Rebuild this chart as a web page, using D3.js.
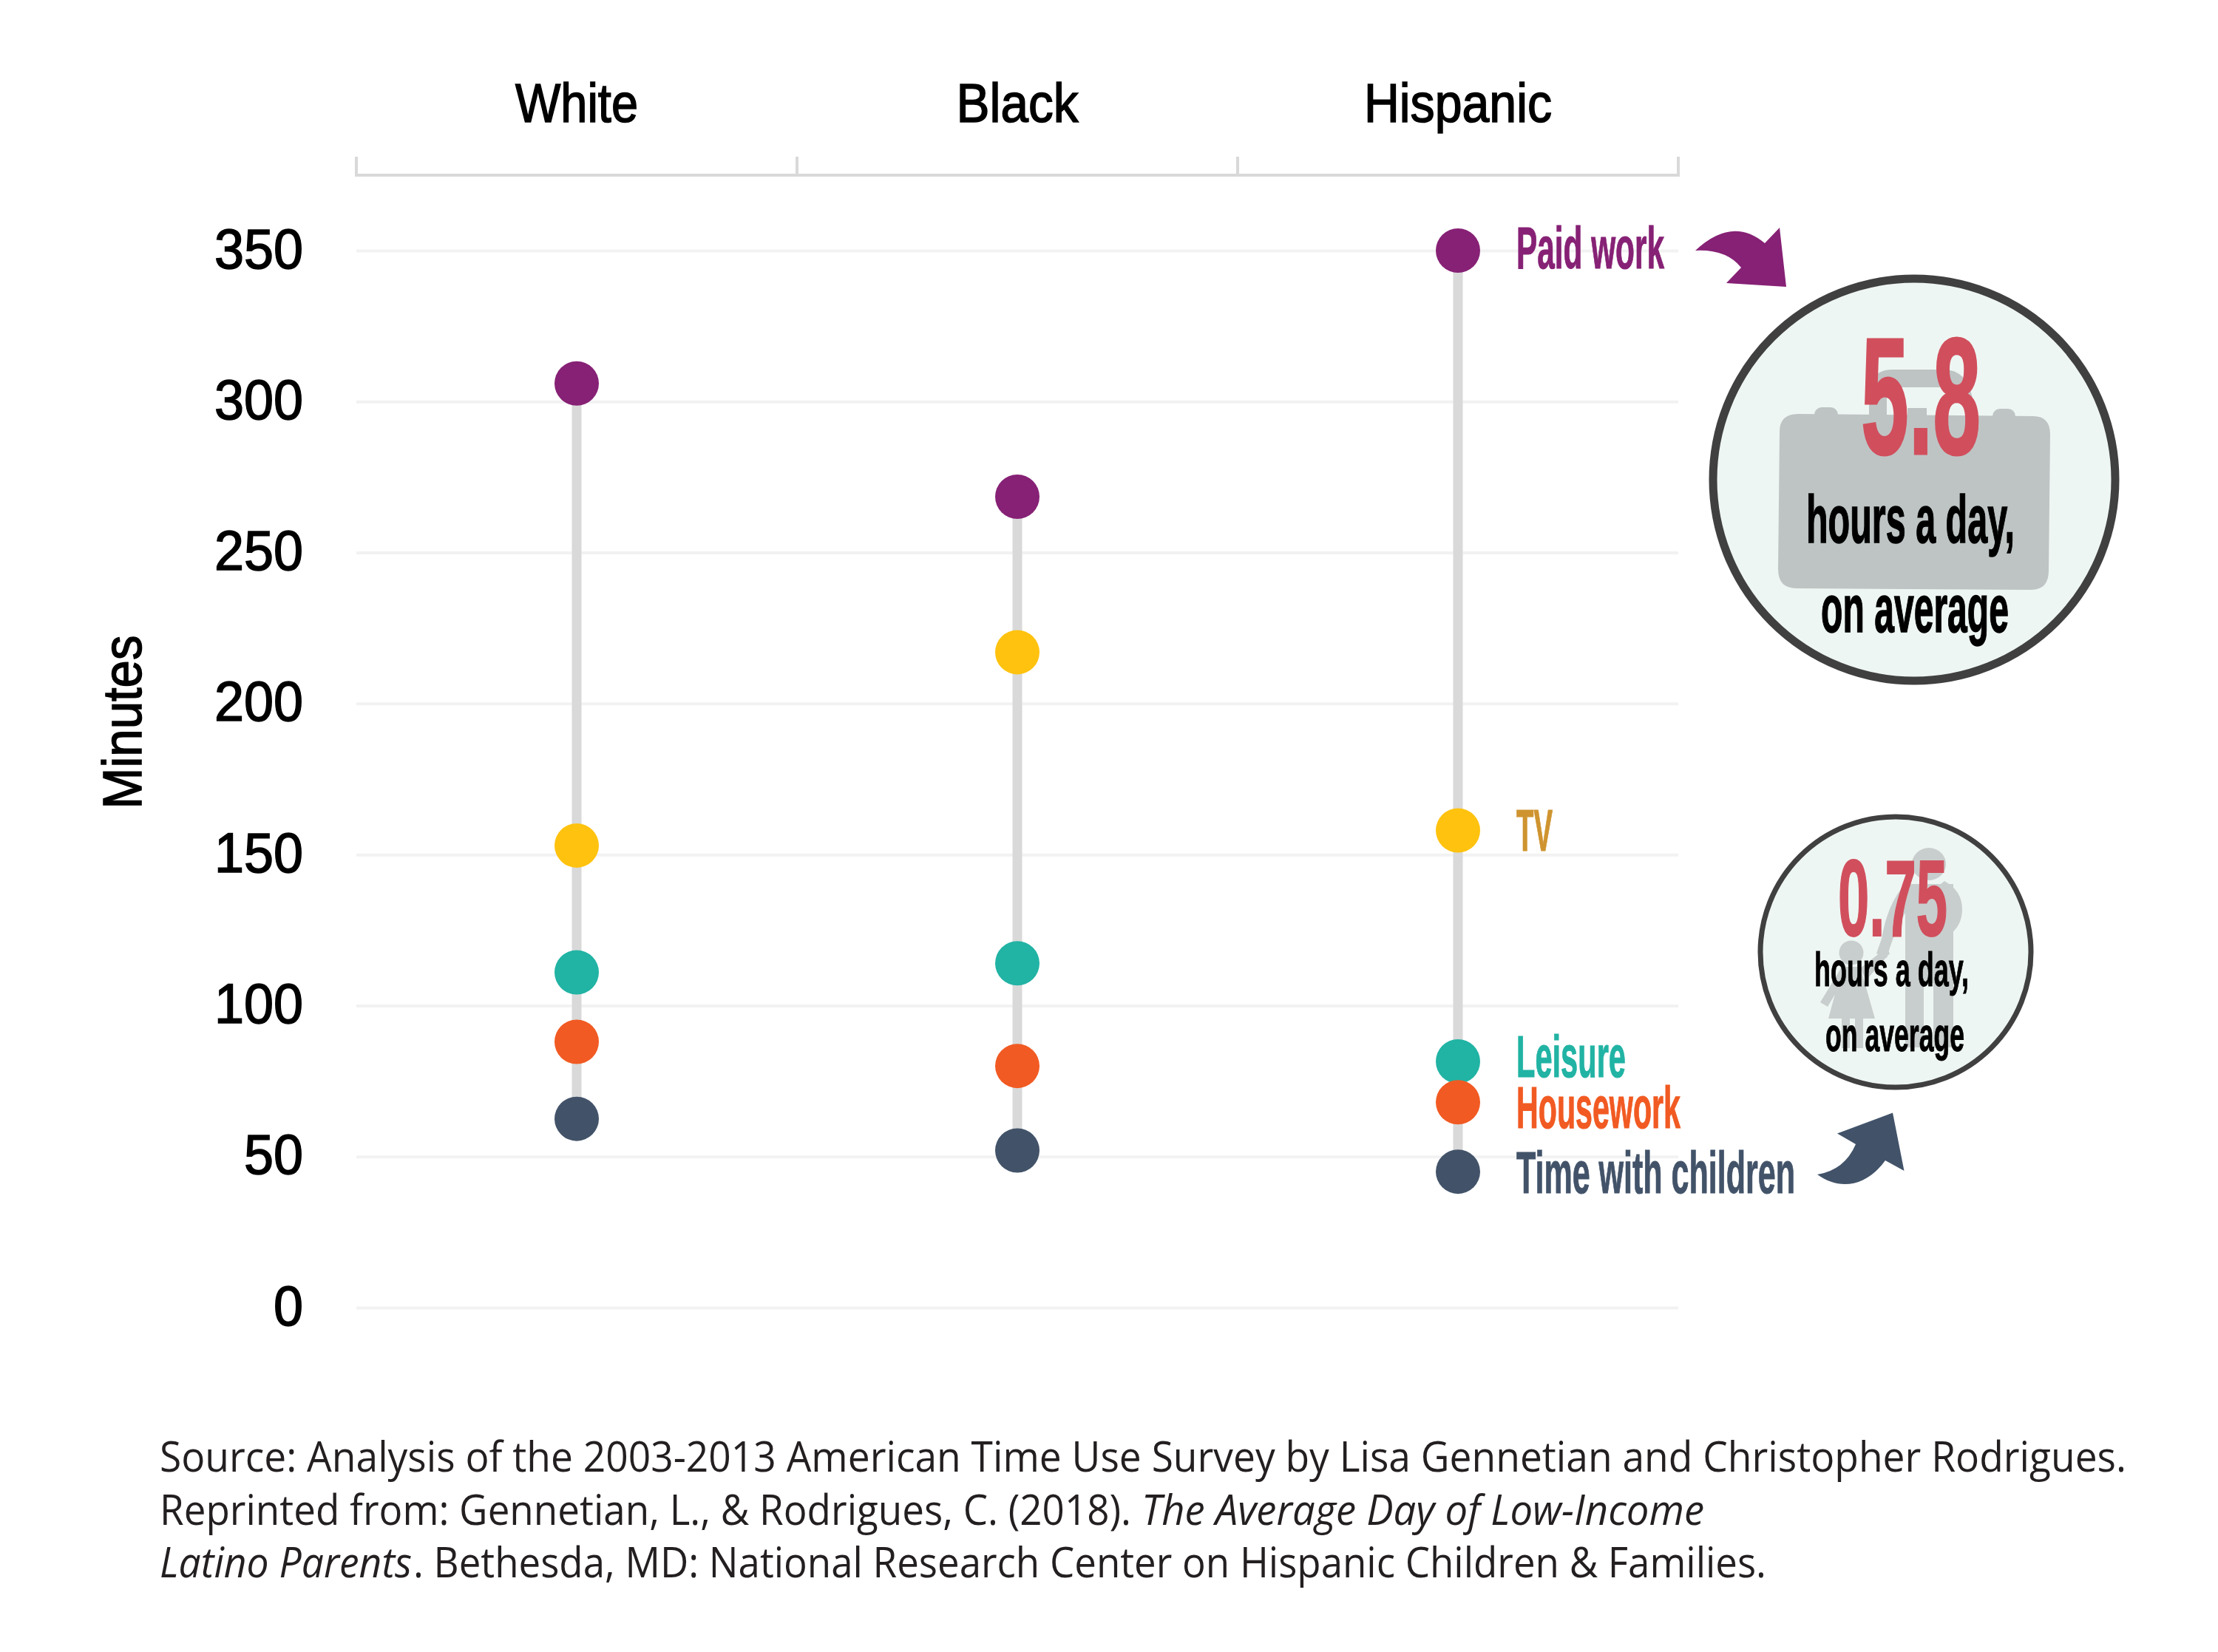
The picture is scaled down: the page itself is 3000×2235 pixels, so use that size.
<!DOCTYPE html>
<html>
<head>
<meta charset="utf-8">
<script src="https://cdnjs.cloudflare.com/ajax/libs/d3/7.8.5/d3.min.js"></script>
<style>
  body { margin: 0; background: #fff; }
  text { font-family: "Liberation Sans Narrow", "Liberation Sans", sans-serif; }
</style>
</head>
<body>
<svg id="chart" width="3000" height="2235"></svg>
<script>
// minutes a day
const groups = ["White", "Black", "Hispanic"];
const paidWork = [306, 268.5, 350];
const tv = [153, 217, 158];
const leisure = [111, 114, 81.5];
const housework = [88, 80, 68];
const timeWithChildren = [62.5, 52, 45];
const yTicks = [0, 50, 100, 150, 200, 250, 300, 350];
const seriesNames = ["Paid work", "TV", "Leisure", "Housework", "Time with children"];
const seriesValues = [paidWork, tv, leisure, housework, timeWithChildren];

const dotColors = ["#862175", "#FFC20E", "#21B3A4", "#F15A22", "#425369"];
const labelColors = ["#862175", "#CF9430", "#21B3A4", "#F15A22", "#425369"];
// label width and baseline shift from the Hispanic dot
const labelWidths = [200, 49, 148, 222, 377];
const labelShift = [24, 28, 21, 35, 29];

const svg = d3.select("#chart");

const x = d3.scaleBand().domain(groups).range([482, 2270]);
const y = d3.scaleLinear().domain([0, 350]).range([1769, 339]);

// squeeze text to a set width, the original uses a condensed face
function fit(sel, w) {
    return sel.attr("textLength", w).attr("lengthAdjust", "spacingAndGlyphs");
}

// gridlines and tick labels
const yAxis = svg.append("g")
    .attr("transform", "translate(482,0)")
    .call(d3.axisLeft(y).tickValues(yTicks).tickSize(-(2270 - 482)).tickPadding(72));
yAxis.select(".domain").remove();
yAxis.selectAll("line").attr("stroke", "#f2f2f2").attr("stroke-width", 4);
yAxis.selectAll("text")
    .style("font-family", "'Liberation Sans'")
    .attr("font-size", 76)
    .attr("fill", "#000")
    .attr("stroke", "#000")
    .attr("stroke-width", 1.6)
    .attr("dy", 23)
    .each(function (d) {
        d3.select(this).attr("textLength", String(d).length * 40).attr("lengthAdjust", "spacingAndGlyphs");
    });

// bracket above the columns
const bracketEdges = groups.map(g => x(g)).concat(x.range()[1]);
svg.append("line")
    .attr("x1", x.range()[0] - 2).attr("x2", x.range()[1] + 2)
    .attr("y1", 237).attr("y2", 237)
    .attr("stroke", "#d9d9d9").attr("stroke-width", 4);
svg.selectAll(".bracket-tick").data(bracketEdges).join("line")
    .attr("class", "bracket-tick")
    .attr("x1", d => d).attr("x2", d => d)
    .attr("y1", 212).attr("y2", 237)
    .attr("stroke", "#d9d9d9").attr("stroke-width", 4);

// group headings
const headWidths = [166, 165, 254];
svg.selectAll(".head").data(groups).join("text")
    .attr("class", "head")
    .attr("x", d => x(d) + x.bandwidth() / 2)
    .attr("y", 165)
    .attr("text-anchor", "middle")
    .attr("font-size", 75)
    .attr("fill", "#000")
    .attr("stroke", "#000")
    .attr("stroke-width", 1.6)
    .text(d => d)
    .each(function (d, i) { fit(d3.select(this), headWidths[i]); });

// y title
fit(svg.append("text")
    .attr("transform", "translate(191,977) rotate(-90)")
    .attr("text-anchor", "middle")
    .attr("font-size", 75)
    .attr("fill", "#000")
    .attr("stroke", "#000")
    .attr("stroke-width", 1.6)
    .text("Minutes"), 235);

// stems
svg.selectAll(".stem").data(groups).join("line")
    .attr("class", "stem")
    .attr("x1", d => x(d) + x.bandwidth() / 2)
    .attr("x2", d => x(d) + x.bandwidth() / 2)
    .attr("y1", (d, i) => y(d3.max(seriesValues, s => s[i])))
    .attr("y2", (d, i) => y(d3.min(seriesValues, s => s[i])))
    .attr("stroke", "#d9d9d9")
    .attr("stroke-width", 13);

// dots
seriesValues.forEach((vals, s) => {
    svg.selectAll(".dot" + s).data(vals).join("circle")
        .attr("class", "dot" + s)
        .attr("cx", (d, i) => x(groups[i]) + x.bandwidth() / 2)
        .attr("cy", d => y(d))
        .attr("r", 30)
        .attr("fill", dotColors[s]);
});

// series labels next to the Hispanic column
seriesNames.forEach((name, s) => {
    fit(svg.append("text")
        .attr("x", 2051)
        .attr("y", y(seriesValues[s][2]) + labelShift[s])
        .attr("font-size", 79)
        .attr("font-weight", "bold")
        .attr("fill", labelColors[s])
        .attr("stroke", labelColors[s])
        .attr("stroke-width", 1)
        .text(name), labelWidths[s]);
});

// arrows
svg.append("path")
    .attr("d", "M2293,339 Q2343,292 2387,329 L2407,308 L2416,388 L2335,383 L2355,362 Q2335,337 2293,339 Z")
    .attr("fill", "#862175");
svg.append("path")
    .attr("d", "M2458,1589 Q2495,1583 2510,1548 L2485,1533.5 L2560,1505.5 L2575.5,1584 L2550,1570 C2525,1604 2490,1612 2458,1589 Z")
    .attr("fill", "#425369");

// work callout
svg.append("circle")
    .attr("cx", 2589).attr("cy", 649).attr("r", 272)
    .attr("fill", "#EEF6F3").attr("stroke", "#404040").attr("stroke-width", 11);
const brief = svg.append("g").attr("fill", "#BEC4C4");
brief.append("path")
    .attr("d", "M2540,562 V530 Q2540,512 2560,512 H2630 Q2650,512 2656,540")
    .attr("fill", "none").attr("stroke", "#BEC4C4").attr("stroke-width", 24);
brief.append("rect").attr("x", 2454).attr("y", 551).attr("width", 32).attr("height", 24).attr("rx", 10);
brief.append("rect").attr("x", 2695).attr("y", 553).attr("width", 31).attr("height", 24).attr("rx", 10);
brief.append("rect").attr("x", 2580).attr("y", 552).attr("width", 26).attr("height", 20);
brief.append("path")
    .attr("d", "M2432,560 L2750,563 Q2773,563 2773,588 L2771,772 Q2771,798 2747,798 L2430,796 Q2405,796 2405,770 L2407,584 Q2407,560 2432,560 Z");

const red = "#D14F5D";
fit(svg.append("text").attr("x", 2517).attr("y", 614).attr("font-size", 224)
    .attr("font-weight", "bold").attr("fill", red).attr("stroke", red).attr("stroke-width", 3)
    .text("5.8"), 162);
fit(svg.append("text").attr("x", 2443).attr("y", 734).attr("font-size", 90)
    .attr("font-weight", "bold").attr("fill", "#000").attr("stroke", "#000").attr("stroke-width", 1.5)
    .text("hours a day,"), 282);
fit(svg.append("text").attr("x", 2463).attr("y", 855).attr("font-size", 90)
    .attr("font-weight", "bold").attr("fill", "#000").attr("stroke", "#000").attr("stroke-width", 1.5)
    .text("on average"), 254);

// children callout
svg.append("circle")
    .attr("cx", 2564).attr("cy", 1288).attr("r", 183)
    .attr("fill", "#EEF6F3").attr("stroke", "#404040").attr("stroke-width", 7);
const people = svg.append("g").attr("fill", "#C8CECD");
// adult
people.append("ellipse").attr("cx", 2609).attr("cy", 1169).attr("rx", 23).attr("ry", 22);
people.append("path")
    .attr("d", "M2577,1196 H2642 V1417 H2615 V1330 H2602 V1417 H2577 Z");
people.append("path")
    .attr("d", "M2577,1196 Q2553,1222 2545,1270 L2538,1290 L2552,1296 Q2562,1260 2577,1235 Z");
people.append("path")
    .attr("d", "M2630,1192 Q2654,1205 2654,1230 Q2654,1250 2640,1262 L2632,1262 L2640,1240 Q2642,1215 2620,1200 Z");
// child
people.append("ellipse").attr("cx", 2504).attr("cy", 1289).attr("rx", 16.5).attr("ry", 16.5);
people.append("path")
    .attr("d", "M2492,1308 H2516 L2536,1378 H2473 Z");
people.append("path")
    .attr("d", "M2490,1310 L2462,1356 L2472,1362 L2496,1322 Z M2516,1310 L2552,1282 L2556,1290 L2524,1326 Z");
people.append("rect").attr("x", 2491).attr("y", 1378).attr("width", 11).attr("height", 40);
people.append("rect").attr("x", 2509).attr("y", 1378).attr("width", 11).attr("height", 40);

fit(svg.append("text").attr("x", 2486).attr("y", 1266).attr("font-size", 146)
    .attr("font-weight", "bold").attr("fill", red).attr("stroke", red).attr("stroke-width", 2)
    .text("0.75"), 148);
fit(svg.append("text").attr("x", 2454).attr("y", 1334).attr("font-size", 65)
    .attr("font-weight", "bold").attr("fill", "#000").attr("stroke", "#000").attr("stroke-width", 1)
    .text("hours a day,"), 209);
fit(svg.append("text").attr("x", 2469).attr("y", 1422).attr("font-size", 65)
    .attr("font-weight", "bold").attr("fill", "#000").attr("stroke", "#000").attr("stroke-width", 1)
    .text("on average"), 188);

// source note, one text per line, runs fitted on their own so the italics start where they should
const note = svg.append("g")
    .style("font-size", "56px")
    .attr("fill", "#231f20");
function noteLine(base, runs) {
    const t = note.append("text").attr("y", base).style("font-family", "'Open Sans'");
    runs.forEach(r => {
        fit(t.append("tspan")
            .attr("x", r[1])
            .attr("font-style", r[3] ? "italic" : "normal")
            .text(r[0]), r[2] - r[1]);
    });
}
noteLine(1991, [["Source: Analysis of the 2003-2013 American Time Use Survey by Lisa Gennetian and Christopher Rodrigues.", 216, 2876, false]]);
noteLine(2063, [["Reprinted from: Gennetian, L., & Rodrigues, C. (2018).", 216, 1530, false], ["The Average Day of Low-Income", 1544, 2305, true]]);
noteLine(2134, [["Latino Parents", 216, 557, true], [". Bethesda, MD: National Research Center on Hispanic Children & Families.", 559, 2389, false]]);
</script>
</body>
</html>
